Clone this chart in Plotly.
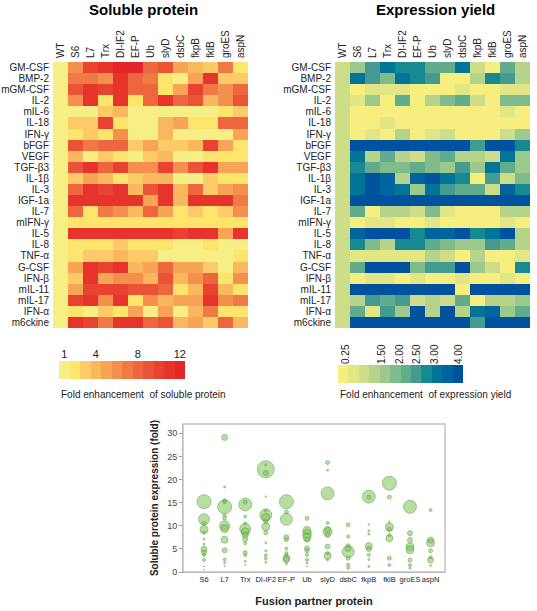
import plotly.graph_objects as go

W, H = 537, 611

proteins = ["GM-CSF", "BMP-2", "mGM-CSF", "IL-2", "mIL-6", "IL-18", "IFN-γ", "bFGF", "VEGF",
            "TGF-β3", "IL-1β", "IL-3", "IGF-1a", "IL-7", "mIFN-γ", "IL-5", "IL-8", "TNF-α",
            "G-CSF", "IFN-β", "mIL-11", "mIL-17", "IFN-α", "m6ckine"]
partners = ["WT", "S6", "L7", "Trx", "DI-IF2", "EF-P", "Ub", "slyD", "dsbC", "fkpB", "fklB", "groES", "aspN"]

# fold enhancement of soluble protein (colour level 1..12)
soluble = [
    [1, 6, 10, 11, 12, 12, 8, 9, 5, 4, 3, 7, 2],
    [1, 7, 7, 6, 11, 8, 7, 2, 1, 5, 11, 3, 3],
    [1, 9, 11, 10, 11, 8, 8, 2, 5, 10, 7, 6, 8],
    [1, 6, 11, 2, 11, 2, 8, 11, 8, 9, 4, 6, 9],
    [1, 1, 1, 3, 4, 1, 1, 1, 1, 1, 1, 2, 3],
    [1, 3, 3, 10, 2, 1, 1, 4, 5, 2, 2, 8, 8],
    [1, 2, 3, 2, 6, 1, 1, 4, 1, 1, 1, 1, 5],
    [1, 9, 7, 8, 8, 3, 5, 3, 3, 4, 10, 5, 2],
    [1, 4, 1, 3, 2, 1, 3, 4, 1, 1, 2, 2, 2],
    [1, 9, 11, 8, 10, 6, 6, 10, 6, 9, 11, 5, 5],
    [1, 3, 5, 4, 2, 3, 4, 4, 1, 1, 3, 2, 2],
    [1, 8, 11, 10, 11, 4, 9, 11, 4, 8, 3, 5, 6],
    [1, 11, 11, 11, 11, 11, 5, 11, 4, 11, 11, 11, 7],
    [1, 8, 2, 7, 6, 4, 8, 5, 2, 3, 2, 3, 6],
    [1, 2, 2, 2, 2, 2, 2, 2, 2, 2, 2, 2, 2],
    [1, 11, 11, 11, 11, 11, 11, 11, 10, 11, 11, 5, 11],
    [1, 2, 2, 2, 3, 2, 2, 2, 1, 1, 2, 1, 1],
    [1, 2, 3, 3, 4, 3, 3, 1, 1, 1, 1, 1, 2],
    [1, 5, 11, 10, 11, 4, 5, 8, 5, 5, 3, 1, 4],
    [1, 3, 11, 5, 6, 6, 4, 9, 4, 6, 8, 2, 6],
    [1, 5, 10, 10, 10, 9, 9, 8, 2, 4, 10, 4, 2],
    [1, 10, 11, 6, 11, 2, 6, 4, 5, 5, 11, 6, 7],
    [1, 2, 1, 3, 2, 5, 1, 5, 1, 4, 7, 2, 2],
    [1, 11, 10, 7, 11, 11, 8, 9, 4, 5, 3, 8, 4],
]

# fold enhancement of expression yield (colour level 1..12)
expression = [
    [3, 5, 8, 10, 9, 9, 7, 7, 10, 3, 1, 7, 4],
    [3, 10, 8, 6, 10, 9, 8, 1, 1, 4, 9, 8, 4],
    [3, 1, 2, 2, 2, 1, 1, 1, 2, 1, 1, 2, 2],
    [3, 2, 5, 1, 7, 1, 4, 6, 7, 3, 1, 6, 6],
    [3, 1, 1, 1, 1, 1, 1, 1, 1, 1, 1, 2, 1],
    [3, 1, 1, 2, 1, 1, 1, 1, 1, 1, 1, 1, 1],
    [3, 1, 2, 1, 4, 1, 2, 3, 1, 1, 1, 3, 5],
    [3, 12, 12, 12, 12, 12, 12, 12, 12, 8, 12, 12, 9],
    [3, 10, 4, 7, 4, 3, 6, 7, 4, 4, 3, 10, 5],
    [3, 9, 7, 6, 6, 7, 6, 5, 8, 5, 10, 7, 5],
    [3, 10, 12, 11, 4, 11, 12, 10, 9, 1, 8, 3, 6],
    [3, 10, 12, 11, 10, 5, 10, 8, 7, 7, 3, 11, 9],
    [3, 12, 12, 12, 12, 12, 12, 12, 12, 12, 12, 12, 12],
    [3, 7, 1, 4, 4, 3, 6, 2, 1, 1, 1, 4, 4],
    [3, 1, 2, 2, 1, 1, 2, 1, 1, 1, 1, 2, 1],
    [3, 11, 12, 12, 12, 9, 11, 11, 12, 9, 10, 12, 4],
    [3, 9, 6, 4, 9, 9, 7, 6, 5, 5, 8, 7, 4],
    [3, 2, 2, 2, 2, 2, 4, 3, 1, 4, 1, 1, 2],
    [3, 7, 12, 12, 12, 6, 8, 8, 12, 5, 3, 1, 9],
    [3, 1, 2, 2, 1, 2, 1, 1, 2, 1, 1, 2, 1],
    [3, 12, 12, 12, 12, 12, 12, 12, 1, 12, 12, 12, 12],
    [3, 4, 8, 7, 8, 3, 4, 3, 7, 1, 4, 4, 5],
    [3, 7, 2, 8, 5, 12, 4, 12, 4, 10, 11, 5, 7],
    [3, 12, 12, 12, 12, 12, 12, 12, 12, 8, 12, 12, 12],
]

soluble_ticks = ["1", "4", "8", "12"]
expression_ticks = ["0.25", "1.50", "2.00", "2.50", "3.00", "4.00"]

bubble_partners = ["S6", "L7", "Trx", "DI-IF2", "EF-P", "Ub", "slyD", "dsbC", "fkpB", "fklB", "groES", "aspN"]
bubble_values = [
    [15.2, 11.4, 10.5, 9.2, 8.5, 7.1, 6.0, 4.9, 4.2, 3.7, 2.6, 1.2, 0.5],
    [29.1, 18.4, 15.5, 15.2, 14.1, 12.3, 11.7, 10.0, 9.4, 7.0, 4.7, 2.7, 2.0, 1.3],
    [14.6, 15.1, 12.0, 10.5, 9.3, 8.7, 8.0, 7.1, 6.2, 4.2, 3.6, 2.3, 1.5],
    [22.2, 21.4, 23.2, 16.3, 13.3, 12.3, 11.8, 10.9, 9.8, 8.5, 6.3, 4.6, 3.6, 2.9, 2.1],
    [15.2, 13.0, 11.4, 7.5, 7.0, 5.1, 4.1, 3.7, 3.0, 2.7, 1.8],
    [11.6, 9.0, 8.3, 7.5, 7.0, 5.1, 4.6, 3.7, 2.6, 1.9, 1.2],
    [23.7, 22.0, 17.0, 10.6, 9.2, 8.7, 8.0, 5.5, 4.1, 3.5, 2.6],
    [10.2, 7.7, 5.8, 5.1, 4.4, 3.0, 1.6, 0.9],
    [16.3, 16.2, 10.3, 8.9, 8.2, 5.6, 5.0, 3.7, 2.7, 1.2],
    [19.2, 16.2, 10.8, 9.7, 9.2, 8.0, 7.3, 3.0, 1.5],
    [14.1, 8.4, 6.9, 5.4, 4.8, 2.6, 1.5, 0.8],
    [13.4, 6.9, 6.3, 4.6, 3.2, 2.6, 1.4],
]
bubble_sizes = [
    [14, 11, 4, 8, 3, 2, 2, 6, 5, 3, 3, 1, 1],
    [6, 2, 3, 4, 14, 3, 4, 10, 8, 7, 5, 3, 2, 1],
    [13, 4, 3, 3, 11, 8, 6, 5, 3, 4, 3, 2, 1],
    [17, 5, 2, 1.5, 3, 12, 8, 4, 8, 4, 2, 2, 3, 3, 2],
    [14, 4, 12, 5, 4, 3, 3, 3, 7, 6, 2],
    [4, 8, 9, 8, 5, 5, 4, 3, 3, 2, 1],
    [4, 2, 13, 3, 6, 9, 5, 5, 3, 7, 2],
    [4, 3, 3, 6, 12, 4, 3, 3],
    [13, 4, 1.5, 2, 2, 7, 5, 3, 2, 2],
    [14, 4, 2, 8, 4, 3, 7, 4, 3],
    [13, 5, 5, 8, 8, 4, 3, 2],
    [3, 6, 8, 4, 3, 6, 2],
]

sol_colors = ["#F7EE86", "#FDE46A", "#FCCB68", "#F9B75E", "#F7A456", "#F48F4E",
              "#F07A45", "#ED663D", "#EA5336", "#E84230", "#E6332B", "#E52527"]
exp_colors = ["#F6EE7E", "#E3E684", "#CEDE88", "#B5D38B", "#9CC98C", "#80BB8B",
              "#62AC8E", "#439B91", "#178993", "#007597", "#00659C", "#00519E"]


def discrete(colors):
    n = len(colors)
    cs = []
    for i, c in enumerate(colors):
        cs.append([i / n, c])
        cs.append([(i + 1) / n, c])
    return cs


FONT = "Liberation Sans, Arial, sans-serif"
TXT = "#222222"


def px_x(a, b):
    return [a / W, b / W]


def px_y(top, bottom):
    return [1 - bottom / H, 1 - top / H]


fig = go.Figure()

fig.add_trace(go.Heatmap(z=soluble, x=partners, y=proteins, colorscale=discrete(sol_colors),
                         zmin=0.5, zmax=12.5, showscale=False, xaxis="x", yaxis="y"))
fig.add_trace(go.Heatmap(z=expression, x=partners, y=proteins, colorscale=discrete(exp_colors),
                         zmin=0.5, zmax=12.5, showscale=False, xaxis="x2", yaxis="y2"))

levels = list(range(1, 13))
fig.add_trace(go.Heatmap(z=[levels], x=list(range(12)), y=[0], colorscale=discrete(sol_colors),
                         zmin=0.5, zmax=12.5, showscale=False, xaxis="x3", yaxis="y3"))
fig.add_trace(go.Heatmap(z=[levels], x=list(range(12)), y=[0], colorscale=discrete(exp_colors),
                         zmin=0.5, zmax=12.5, showscale=False, xaxis="x4", yaxis="y4"))

# bubbles
bx, by, bs = [], [], []
for p, vals, sizes in zip(bubble_partners, bubble_values, bubble_sizes):
    for v, s in sorted(zip(vals, sizes), key=lambda t: -t[1]):
        bx.append(p)
        by.append(v)
        bs.append(s)
fig.add_trace(go.Scatter(x=bx, y=by, mode="markers", xaxis="x5", yaxis="y5",
                         marker=dict(size=bs, sizemode="diameter", color="rgba(128,196,88,0.78)",
                                     line=dict(color="rgba(78,150,48,0.9)", width=0.8)),
                         showlegend=False))

tickfont = dict(family=FONT, size=10, color=TXT)
hm_y = px_y(62, 328)
common = dict(automargin=False, showgrid=False, zeroline=False)

layout = dict(
    width=W, height=H, margin=dict(l=0, r=0, t=0, b=0, autoexpand=False),
    paper_bgcolor="white", plot_bgcolor="white", showlegend=False,
    font=dict(family=FONT, color=TXT),
    xaxis=dict(domain=px_x(53, 248), anchor="y", side="top", tickangle=-90, tickfont=tickfont,
               tickmode="array", tickvals=partners, ticks="", ticklabelstandoff=3, **common),
    yaxis=dict(domain=hm_y, anchor="x", autorange="reversed", tickfont=tickfont, ticks="",
               tickmode="array", tickvals=proteins, ticklabelstandoff=3, **common),
    xaxis2=dict(domain=px_x(335, 530), anchor="y2", side="top", tickangle=-90, tickfont=tickfont,
                tickmode="array", tickvals=partners, ticks="", ticklabelstandoff=3, **common),
    yaxis2=dict(domain=hm_y, anchor="x2", autorange="reversed", tickfont=tickfont, ticks="",
                tickmode="array", tickvals=proteins, ticklabelstandoff=3, **common),
    xaxis3=dict(domain=px_x(59, 185), anchor="y3", side="top", tickvals=[0, 3, 7, 11],
                ticktext=soluble_ticks, tickfont=dict(family=FONT, size=11, color=TXT),
                ticks="", range=[-0.5, 11.5], **common),
    yaxis3=dict(domain=px_y(361, 379), anchor="x3", showticklabels=False, ticks="", **common),
    xaxis4=dict(domain=px_x(338, 463), anchor="y4", side="top",
                tickvals=[0.27, 3.72, 5.45, 7.08, 8.8, 11.1], ticktext=expression_ticks,
                tickangle=-90, tickfont=tickfont, ticks="", range=[-0.5, 11.5], **common),
    yaxis4=dict(domain=px_y(365, 383), anchor="x4", showticklabels=False, ticks="", **common),
    xaxis5=dict(domain=px_x(183, 445), anchor="y5", type="category", categoryorder="array",
                categoryarray=bubble_partners, range=[-1.02, 11.7], tickangle=0,
                tickfont=dict(family=FONT, size=7.5, color=TXT),
                showline=True, linecolor="#9a9a9a", linewidth=1, mirror=False, ticks="",
                title=dict(text="<b>Fusion partner protein</b>", font=dict(family=FONT, size=11, color=TXT),
                           standoff=14), **common),
    yaxis5=dict(domain=px_y(424, 572), anchor="x5", range=[0, 32], dtick=5,
                tickfont=dict(family=FONT, size=9, color="#444"), ticks="outside", ticklen=3,
                tickcolor="#9a9a9a", showline=True, linecolor="#9a9a9a", linewidth=1,
                title=dict(text="<b>Soluble protein expression (fold)</b>",
                           font=dict(family=FONT, size=10, color=TXT), standoff=6), **common),
)
fig.update_layout(**layout)

# frame of bubble plot (light grey)
fig.add_shape(type="rect", xref="x5 domain", yref="y5 domain", x0=0, x1=1, y0=0, y1=1,
              line=dict(color="#c4c4c4", width=1.5))

ann = [
    dict(text="<b>Soluble protein</b>", x=143 / W, y=1 - 9 / H, size=15),
    dict(text="<b>Expression yield</b>", x=435 / W, y=1 - 9 / H, size=15),
]
for a in ann:
    fig.add_annotation(text=a["text"], x=a["x"], y=a["y"], xref="paper", yref="paper",
                       showarrow=False, xanchor="center", yanchor="middle",
                       font=dict(family=FONT, size=a["size"], color="black"))

fig.add_annotation(text="Fold enhancement  of soluble protein", x=59 / W, y=1 - 394 / H,
                   xref="paper", yref="paper", showarrow=False, xanchor="left", yanchor="middle",
                   font=dict(family=FONT, size=10, color=TXT))
fig.add_annotation(text="Fold enhancement  of expression yield", x=338 / W, y=1 - 394 / H,
                   xref="paper", yref="paper", showarrow=False, xanchor="left", yanchor="middle",
                   font=dict(family=FONT, size=10, color=TXT))

# the page body has a default 8px margin; remove it so the figure starts at the window corner
fig.write_html("out.html", config={"displayModeBar": False},
               post_script="document.body.style.margin='0';")
